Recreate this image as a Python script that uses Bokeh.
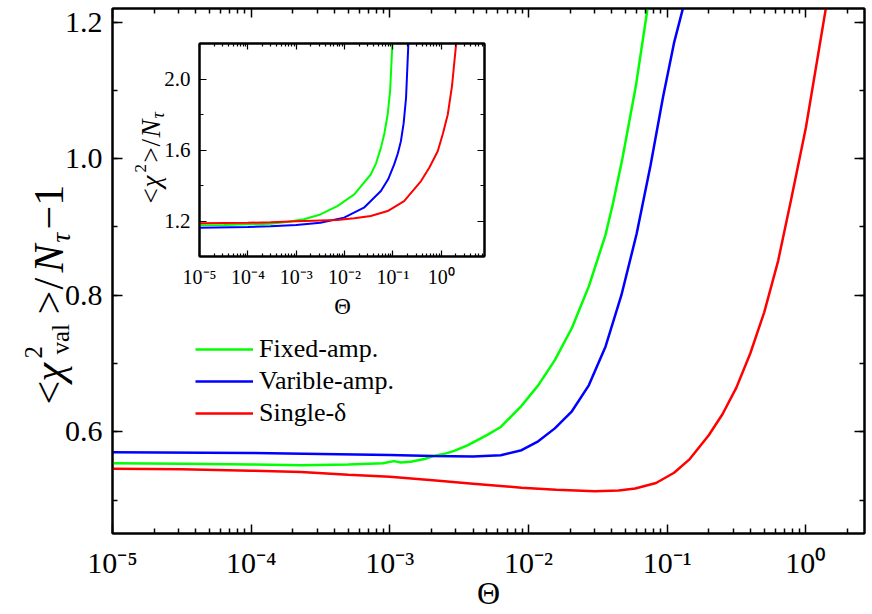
import json
import numpy as np
from math import pi
from bokeh.plotting import figure
from bokeh.models import (LinearAxis, LogAxis, FixedTicker, SingleIntervalTicker, Range1d,
                          Legend, LegendItem, PrintfTickFormatter, CustomJSTickFormatter)
from bokeh.core.properties import value
from bokeh.embed import file_html
from bokeh.resources import INLINE

FONT = "Liberation Serif"

# ---------------- main panel data (log10 Theta, value) ----------------
green_logt = [-5.0, -4.5, -4.0, -3.64, -3.3, -3.05, -2.97, -2.92, -2.85, -2.75, -2.69, -2.6,
              -2.536, -2.44, -2.3, -2.2, -2.05, -1.93, -1.81, -1.687, -1.565, -1.445,
              -1.39, -1.323, -1.226, -1.14, -1.12]
green_val = [0.554, 0.553, 0.552, 0.551, 0.552, 0.554, 0.557, 0.555, 0.556, 0.560, 0.5645, 0.568,
             0.572, 0.580, 0.595, 0.607, 0.638, 0.668, 0.705, 0.752, 0.813, 0.888,
             0.935, 1.0, 1.106, 1.222, 1.25]

blue_logt = [-5.0, -4.0, -3.5, -3.0, -2.69, -2.4, -2.2, -2.05, -1.93, -1.81, -1.687, -1.565,
             -1.444, -1.33, -1.22, -1.12, -1.03, -0.95, -0.88, -0.86]
blue_val = [0.570, 0.569, 0.5675, 0.566, 0.5645, 0.5638, 0.5655, 0.573, 0.586, 0.605, 0.630, 0.668,
            0.725, 0.80, 0.89, 0.99, 1.09, 1.17, 1.225, 1.245]

red_logt = [-5.0, -4.5, -4.0, -3.64, -3.3, -3.0, -2.69, -2.4, -2.05, -1.8, -1.52, -1.35, -1.23,
            -1.08, -0.95, -0.837, -0.7, -0.6, -0.5, -0.4, -0.3, -0.2, -0.107, 0.0, 0.081, 0.146, 0.17]
red_val = [0.546, 0.545, 0.543, 0.541, 0.537, 0.534, 0.529, 0.524, 0.518, 0.515, 0.513, 0.514, 0.517,
           0.525, 0.540, 0.560, 0.595, 0.626, 0.665, 0.715, 0.775, 0.850, 0.939, 1.045, 1.143, 1.222, 1.25]

# ---------------- inset data (log10 Theta, <chi^2>/N_tau) ----------------
in_green_logt = [-5.0, -4.5, -4.0, -3.53, -3.2, -2.84, -2.5, -2.15, -1.8, -1.46, -1.35, -1.25,
                 -1.18, -1.11, -1.06, -1.01]
in_green_val = [1.176, 1.178, 1.181, 1.185, 1.195, 1.21, 1.237, 1.284, 1.35, 1.462, 1.525, 1.612,
                1.69, 1.80, 1.93, 2.21]

in_blue_logt = [-5.0, -4.0, -3.53, -3.0, -2.5, -2.01, -1.6, -1.25, -1.1, -0.975, -0.9, -0.836,
                -0.78, -0.73, -0.68]
in_blue_val = [1.162, 1.166, 1.17, 1.178, 1.19, 1.219, 1.275, 1.369, 1.435, 1.519, 1.58, 1.65,
               1.75, 1.893, 2.21]

in_red_logt = [-5.0, -4.0, -3.53, -3.0, -2.15, -1.8, -1.46, -1.11, -0.77, -0.42, -0.25, -0.075,
               0.03, 0.133, 0.22, 0.31]
in_red_val = [1.187, 1.19, 1.193, 1.198, 1.206, 1.215, 1.228, 1.256, 1.312, 1.425, 1.50, 1.593,
              1.69, 1.80, 1.96, 2.21]

series_names = ["Fixed-amp.", "Varible-amp.", "Single-\u03b4"]
series_colors = ["#00ff00", "#0000ff", "#ff0000"]

# tick labels (decade exponent -> label)
xtick_exp = [-5, -4, -3, -2, -1, 0]
xtick_labels = ["10\u207b\u2075", "10\u207b\u2074", "10\u207b\u00b3", "10\u207b\u00b2", "10\u207b\u00b9", "10\u2070"]


def decade_formatter():
    mapping = json.dumps({str(e): s for e, s in zip(xtick_exp, xtick_labels)})
    return CustomJSTickFormatter(code=f"""
        const m = {mapping};
        const e = Math.round(Math.log10(tick));
        return m[String(e)] || "";
    """)


def style_axis(ax, major, minor, lw=1.5, hide_labels=False):
    ax.major_tick_in = major
    ax.major_tick_out = 0
    ax.minor_tick_in = minor
    ax.minor_tick_out = 0
    ax.axis_line_width = 2
    ax.axis_line_color = "black"
    ax.major_tick_line_width = lw
    ax.minor_tick_line_width = lw
    ax.major_tick_line_color = "black"
    ax.minor_tick_line_color = "black"
    if hide_labels:
        ax.major_label_text_font_size = "1px"
        ax.major_label_text_alpha = 0
        ax.major_label_standoff = 0


def log_ticker(lo_exp, hi_exp, hi_minor):
    majors = [10.0 ** e for e in range(lo_exp, hi_exp + 1)]
    minors = [m * 10.0 ** e for e in range(lo_exp, hi_exp + 1) for m in range(2, 10)
              if m * 10.0 ** e <= hi_minor]
    return FixedTicker(ticks=majors, minor_ticks=minors)


def pos(left, top):
    return {"position": "absolute", "left": f"{left}px", "top": f"{top}px"}


# ======================= main figure =======================
p = figure(width=870, height=612, x_axis_type="log", x_range=(1e-5, 2.65), y_range=(0.451, 1.22),
           output_backend="svg", toolbar_location=None, title=None,
           min_border_left=112, min_border_right=6, min_border_top=8, min_border_bottom=79)
p.styles = pos(0, 0)
p.grid.visible = False
p.outline_line_color = "black"
p.outline_line_width = 2
p.background_fill_color = "white"
p.border_fill_color = "white"

p.xaxis.ticker = log_ticker(-5, 0, 2.65)
style_axis(p.xaxis[0], 9, 5)
p.xaxis.formatter = decade_formatter()
p.xaxis.major_label_text_font = FONT
p.xaxis.major_label_text_font_size = "30px"
p.xaxis.major_label_text_color = "black"
p.xaxis.major_label_standoff = 12

p.yaxis.ticker = SingleIntervalTicker(interval=0.2, num_minor_ticks=2)
style_axis(p.yaxis[0], 10, 5)
p.yaxis.formatter = PrintfTickFormatter(format="%.1f")
p.yaxis.major_label_text_font = FONT
p.yaxis.major_label_text_font_size = "30px"
p.yaxis.major_label_text_color = "black"
p.yaxis.major_label_standoff = 10

top_ax = LogAxis(ticker=log_ticker(-5, 0, 2.65))
style_axis(top_ax, 9, 5, hide_labels=True)
p.add_layout(top_ax, "above")
right_ax = LinearAxis(ticker=SingleIntervalTicker(interval=0.2, num_minor_ticks=2))
style_axis(right_ax, 10, 5, hide_labels=True)
p.add_layout(right_ax, "right")

renderers = []
for lt, v, c in [(green_logt, green_val, series_colors[0]),
                 (blue_logt, blue_val, series_colors[1]),
                 (red_logt, red_val, series_colors[2])]:
    r = p.line(10 ** np.array(lt), v, line_color=c, line_width=2.5)
    renderers.append(r)

legend = Legend(items=[LegendItem(label=n, renderers=[r]) for n, r in zip(series_names, renderers)],
                location=(83, 104), glyph_width=58, glyph_height=32, label_height=32,
                spacing=0, padding=0, margin=0, label_standoff=6,
                label_text_font=FONT, label_text_font_size="26px", label_text_color="black",
                border_line_alpha=0, background_fill_alpha=0)
p.add_layout(legend)

# ======================= inset figure =======================
ins = figure(width=358, height=288, x_axis_type="log", x_range=(1e-5, 7.8), y_range=(1.0, 2.2),
             output_backend="svg", toolbar_location=None, title=None,
             min_border_left=68, min_border_right=5, min_border_top=5, min_border_bottom=70)
ins.styles = pos(131, 38)
ins.grid.visible = False
ins.outline_line_color = "black"
ins.outline_line_width = 2
ins.background_fill_color = "white"
ins.border_fill_alpha = 0

ins.xaxis.ticker = log_ticker(-5, 0, 7.8)
style_axis(ins.xaxis[0], 6, 3, 1.2)
ins.xaxis.formatter = decade_formatter()
ins.xaxis.major_label_text_font = FONT
ins.xaxis.major_label_text_font_size = "20px"
ins.xaxis.major_label_text_color = "black"
ins.xaxis.major_label_standoff = 9

ins.yaxis.ticker = SingleIntervalTicker(interval=0.4, num_minor_ticks=2)
style_axis(ins.yaxis[0], 7, 4, 1.2)
ins.yaxis.formatter = PrintfTickFormatter(format="%.1f")
ins.yaxis.major_label_text_font = FONT
ins.yaxis.major_label_text_font_size = "21px"
ins.yaxis.major_label_text_color = "black"
ins.yaxis.major_label_standoff = 9
itop = LogAxis(ticker=log_ticker(-5, 0, 7.8))
style_axis(itop, 6, 3, 1.2, hide_labels=True)
ins.add_layout(itop, "above")
iright = LinearAxis(ticker=SingleIntervalTicker(interval=0.4, num_minor_ticks=2))
style_axis(iright, 7, 4, 1.2, hide_labels=True)
ins.add_layout(iright, "right")

for lt, v, c in [(in_green_logt, in_green_val, series_colors[0]),
                 (in_blue_logt, in_blue_val, series_colors[1]),
                 (in_red_logt, in_red_val, series_colors[2])]:
    ins.line(10 ** np.array(lt), v, line_color=c, line_width=2)

# ======================= text overlay (axis titles) =======================
W, H = 870, 612
ov = figure(width=W, height=H, x_range=Range1d(0, W), y_range=Range1d(H, 0),
            output_backend="svg", toolbar_location=None, title=None,
            x_axis_location=None, y_axis_location=None, min_border=0)
ov.styles = pos(0, 0)
ov.grid.visible = False
ov.outline_line_color = None
ov.background_fill_alpha = 0
ov.border_fill_alpha = 0


def piece(x, y, text, size, italic=False, angle=0.0, align="left"):
    ov.text(x=[x], y=[y], text=[text], angle=angle, text_font=value(FONT),
            text_font_size=value(f"{size}px"), text_font_style="italic" if italic else "normal",
            text_align=align, text_baseline="middle", text_color="black")


# main x title and y title (positions are text centre lines)
piece(488, 592, "\u0398", 32, align="center")
V = pi / 2
bx = 48
piece(bx, 404, "<", 42, angle=V)
piece(bx, 381, "\u03c7", 42, True, angle=V)
piece(bx - 15, 358, "2", 25, angle=V)
piece(bx + 12, 354, "val", 25, angle=V)
piece(bx, 314, ">", 42, angle=V)
piece(bx, 289, "/", 42, angle=V)
piece(bx, 272, "N", 42, True, angle=V)
piece(bx + 12, 242, "\u03c4", 27, True, angle=V)
piece(bx, 229, "\u22121", 42, angle=V)

# inset x title and y title
piece(342, 306, "\u0398", 23, align="center")
ib = 150
piece(ib, 203, "<", 27, angle=V)
piece(ib, 187, "\u03c7", 27, True, angle=V)
piece(ib - 10, 172, "2", 17, angle=V)
piece(ib, 162, ">", 27, angle=V)
piece(ib, 146, "/", 27, angle=V)
piece(ib, 137, "N", 27, True, angle=V)
piece(ib + 7, 118, "\u03c4", 18, True, angle=V)

open("out.html", "w").write(file_html([p, ins, ov], INLINE))
